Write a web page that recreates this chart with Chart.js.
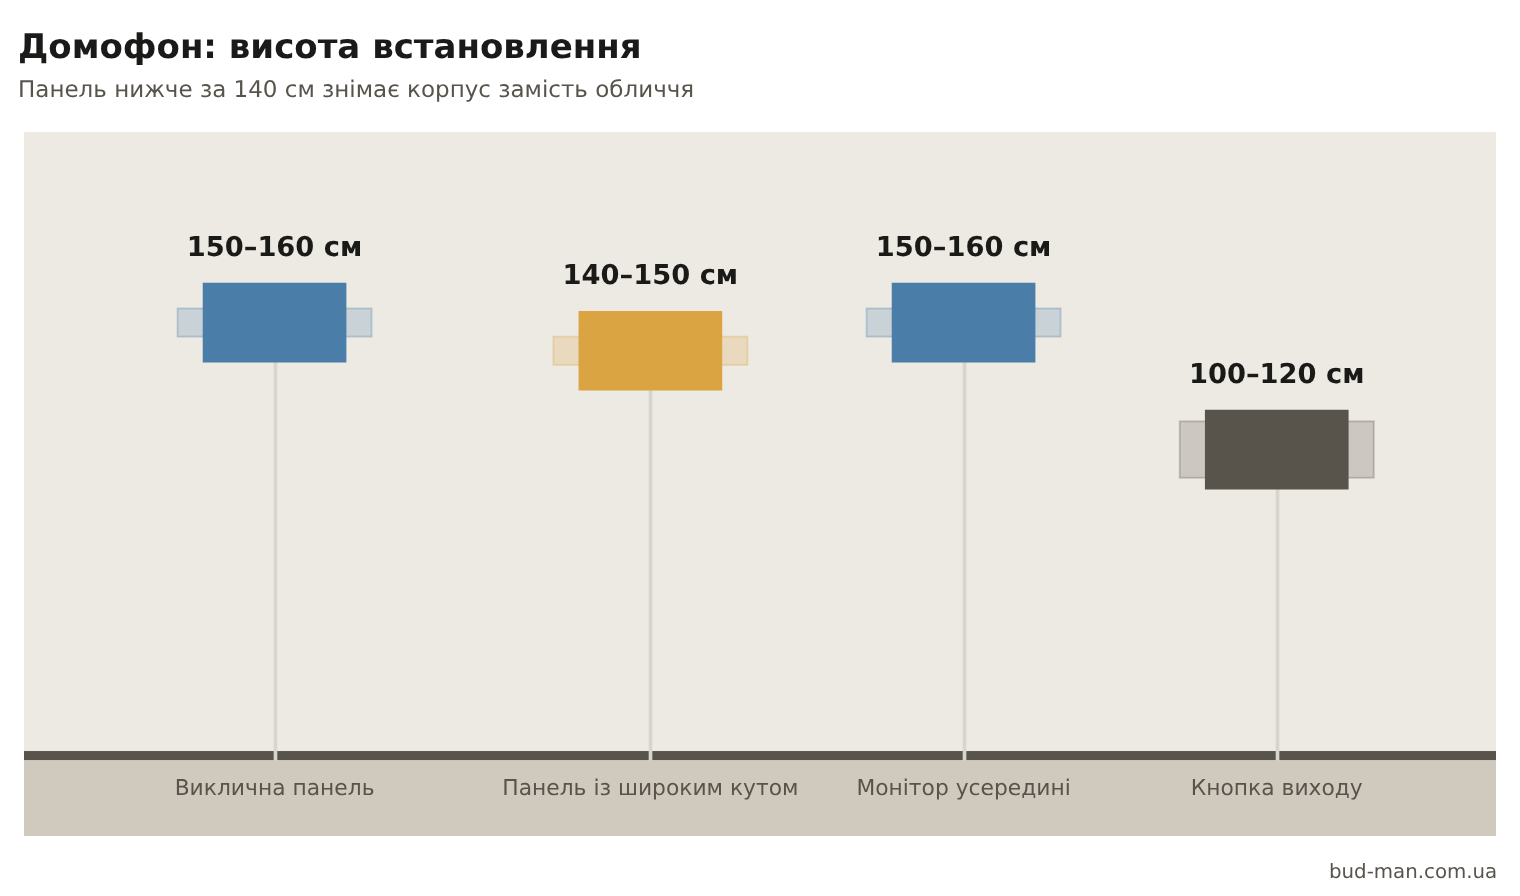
<!DOCTYPE html>
<html lang="uk">
<head>
<meta charset="utf-8">
<title>Домофон: висота встановлення</title>
<script src="https://cdn.jsdelivr.net/npm/chart.js@4"></script>
<style>
    html, body { margin: 0; padding: 0; background: #fff; }
    body { width: 1520px; height: 896px; position: relative; overflow: hidden; font-family: "DejaVu Sans", sans-serif; text-rendering: geometricPrecision; }
    h1, p { margin: 0; position: absolute; white-space: nowrap; will-change: transform; }
    #title { left: 18px; top: 27px; font-size: 34px; line-height: 40px; font-weight: 700; color: #1a1a18; }
    #subtitle { left: 18px; top: 76.5px; font-size: 23px; line-height: 26px; color: #58544b; }
    #credit { right: 23px; top: 860px; font-size: 19.8px; line-height: 23px; color: #58544b; }
    #chart { position: absolute; left: 24px; top: 132px; }
</style>
</head>
<body>
<h1 id="title">Домофон: висота встановлення</h1>
<p id="subtitle">Панель нижче за 140 см знімає корпус замість обличчя</p>
<canvas id="chart" width="1472" height="704"></canvas>
<p id="credit">bud-man.com.ua</p>

<script>
const categories = ['Виклична панель', 'Панель із широким кутом', 'Монітор усередині', 'Кнопка виходу'];
const positions = [0, 1.2, 2.2, 3.2];
const stemPositions = [0.003, 1.2004, 2.203, 3.2024];
const rangeLow = [150, 140, 150, 100];
const rangeHigh = [160, 150, 160, 120];
const deviceLow = [141, 131, 141, 96];
const deviceHigh = [169, 159, 169, 124];
const valueLabels = ['150–160 см', '140–150 см', '150–160 см', '100–120 см'];
const deviceColors = ['#4a7ea8', '#d9a441', '#4a7ea8', '#58544b'];
const rangeFills = ['rgba(74,126,168,0.22)', 'rgba(217,164,65,0.22)', 'rgba(74,126,168,0.22)', 'rgba(88,84,75,0.22)'];
const rangeEdges = ['rgba(74,126,168,0.25)', 'rgba(217,164,65,0.25)', 'rgba(74,126,168,0.25)', 'rgba(88,84,75,0.25)'];
const floorTop = 3.2;

const WALL = '#edeae3';
const FLOOR = '#d0c9bd';
const SKIRT = '#58544b';
const STEM = '#d7d5d0';
const RANGE_WIDTH = 194;

// стіна, підлога і плінтус під стовпчиками
const backdrop = {
    id: 'backdrop',
    beforeDraw(chart) {
        const { ctx, chartArea: a, scales: { y } } = chart;
        const y0 = y.getPixelForValue(0);
        const yTop = y.getPixelForValue(floorTop);
        ctx.textRendering = 'geometricPrecision';
        ctx.save();
        ctx.fillStyle = WALL;
        ctx.fillRect(a.left, a.top, a.width, y0 - a.top);
        ctx.fillStyle = FLOOR;
        ctx.fillRect(a.left, y0, a.width, a.bottom - y0);
        ctx.fillStyle = SKIRT;
        ctx.fillRect(a.left, yTop, a.width, y0 - yTop);
        ctx.restore();
    }
};

// контур діапазону лежить на межі, а не всередині стовпчика
const rangeOutline = {
    id: 'rangeOutline',
    afterDatasetDraw(chart, args) {
        if (args.index !== 1) return;
        const { ctx, scales: { x, y } } = chart;
        ctx.save();
        ctx.lineWidth = 2;
        positions.forEach((p, i) => {
            const top = y.getPixelForValue(rangeHigh[i]);
            ctx.strokeStyle = rangeEdges[i];
            ctx.strokeRect(x.getPixelForValue(p) - RANGE_WIDTH / 2, top, RANGE_WIDTH, y.getPixelForValue(rangeLow[i]) - top);
        });
        ctx.restore();
    }
};

// підписи діапазонів над пристроями
const valueText = {
    id: 'valueText',
    afterDatasetsDraw(chart) {
        const { ctx, scales: { x, y } } = chart;
        ctx.save();
        ctx.font = '700 27.3px "DejaVu Sans"';
        ctx.fillStyle = '#1a1a18';
        ctx.textAlign = 'center';
        ctx.textBaseline = 'alphabetic';
        valueLabels.forEach((label, i) => {
            ctx.fillText(label, x.getPixelForValue(positions[i]), y.getPixelForValue(deviceHigh[i]) - 27);
        });
        ctx.restore();
    }
};

new Chart(document.getElementById('chart'), {
    type: 'bar',
    data: {
        datasets: [
            {
                label: 'Пристрій',
                data: positions.map((p, i) => ({ x: p, y: [deviceLow[i], deviceHigh[i]] })),
                backgroundColor: deviceColors,
                borderWidth: 0,
                barThickness: 143,
                grouped: false,
                order: 1,
            },
            {
                label: 'Діапазон',
                data: positions.map((p, i) => ({ x: p, y: [rangeLow[i], rangeHigh[i]] })),
                backgroundColor: rangeFills,
                borderWidth: 0,
                barThickness: RANGE_WIDTH,
                grouped: false,
                order: 2,
            },
            {
                label: 'Стійка',
                data: stemPositions.map((p, i) => ({ x: p, y: [0, deviceLow[i]] })),
                backgroundColor: STEM,
                borderWidth: 0,
                barThickness: 3,
                grouped: false,
                order: 3,
            },
        ]
    },
    options: {
        responsive: false,
        animation: false,
        devicePixelRatio: 1,
        layout: { padding: 0 },
        plugins: { legend: { display: false }, tooltip: { enabled: false } },
        scales: {
            x: {
                type: 'linear',
                min: -0.8,
                max: 3.9,
                offset: false,
                position: { y: 0 },
                grid: { display: false, drawTicks: false, offset: false },
                border: { display: false },
                afterBuildTicks: axis => { axis.ticks = positions.map(value => ({ value })); },
                ticks: {
                    autoSkip: false,
                    maxRotation: 0,
                    padding: 16,
                    color: '#58544b',
                    font: { family: '"DejaVu Sans"', size: 21.8 },
                    callback: value => categories[positions.indexOf(value)],
                },
            },
            y: {
                display: false,
                min: -26.9,
                max: 222.5,
            },
        },
    },
    plugins: [backdrop, rangeOutline, valueText],
});
</script>
</body>
</html>
